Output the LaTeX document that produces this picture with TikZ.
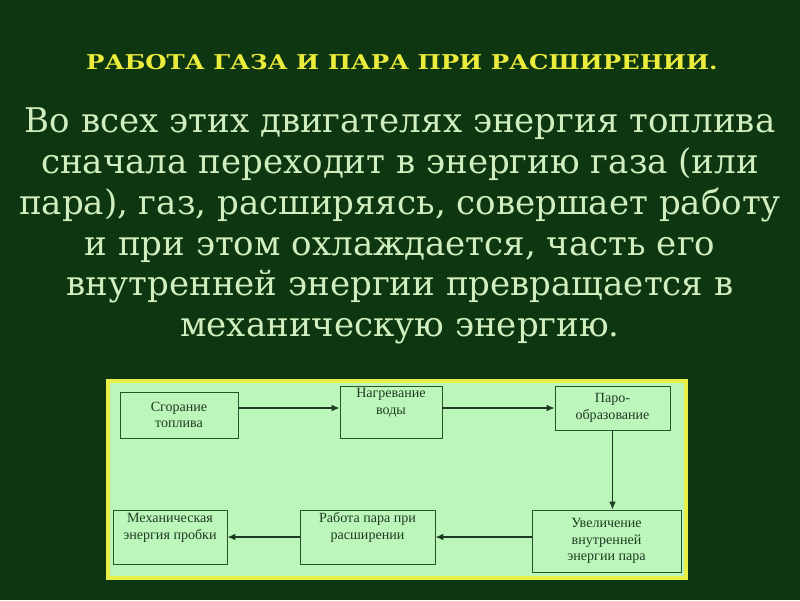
\documentclass[tikz,border=0pt]{standalone}
\usepackage{fontspec}
\setmainfont{Liberation Serif}
\newfontfamily\slidefont{DejaVu Serif}
\usetikzlibrary{arrows.meta, positioning, calc}
\definecolor{boardgreen}{RGB}{14,54,16}
\definecolor{chalk}{RGB}{208,238,190}
\definecolor{titleyellow}{RGB}{236,236,60}
\definecolor{panelfill}{RGB}{188,246,186}
\definecolor{panelrim}{RGB}{230,240,70}
\definecolor{boxline}{RGB}{40,84,44}
\definecolor{boxtext}{RGB}{30,60,36}

\begin{document}
\begin{tikzpicture}[
    x=0.025cm, y=-0.025cm,
    stepbox/.style={
        draw=boxline, line width=0.6pt, align=center,
        text=boxtext, inner sep=1pt,
        font=\fontsize{10}{11.8}\selectfont
    },
    flow/.style={-{Latex[length=2mm,width=1.7mm]}, line width=0.8pt, draw=boxtext}
]
    \useasboundingbox (0,0) rectangle (800,600);
    \fill[boardgreen] (0,0) rectangle (800,600);

    % heading and text
    \node[text=titleyellow, font=\slidefont\bfseries\fontsize{14.5}{17}\selectfont] (title) at (402,62)
        {\scalebox{1.2}[1]{РАБОТА ГАЗА И ПАРА ПРИ РАСШИРЕНИИ.}};
    \node[text=chalk, align=center, font=\slidefont\fontsize{24.2}{29}\selectfont] (body) at (400,226)
        {Во всех этих двигателях энергия топлива\\
         сначала переходит в энергию газа (или\\
         пара), газ, расширяясь, совершает работу\\
         и при этом охлаждается, часть его\\
         внутренней энергии превращается в\\
         механическую энергию.};

    % panel
    \draw[panelrim, line width=2.5pt, fill=panelfill] (108,381) rectangle (686,578);

    % steps
    \node[stepbox, minimum width=2.95cm, minimum height=1.15cm] (burn) at (179,415) {Сгорание\\топлива};
    \node[stepbox, minimum width=2.55cm, minimum height=1.3cm] (heat) at (391,412) {Нагревание\\воды\\\strut};
    \node[stepbox, minimum width=2.875cm, minimum height=1.1cm] (steam) at (612.5,408) {Паро-\\образование};
    \node[stepbox, minimum width=3.725cm, minimum height=1.55cm] (inner) at (606.5,541) {Увеличение\\внутренней\\энергии пара};
    \node[stepbox, minimum width=3.375cm, minimum height=1.35cm] (work) at (367.5,537) {Работа пара при\\расширении\\\strut};
    \node[stepbox, minimum width=2.85cm, minimum height=1.35cm] (mech) at (170,537) {Механическая\\энергия пробки\\\strut};

    % arrows
    \draw[flow] (burn.east |- steam.west) -- (heat.west |- steam.west);
    \draw[flow] (heat.east |- steam.west) -- (steam.west);
    \draw[flow] (steam.south) -- (steam.south |- inner.north);
    \draw[flow] (inner.west |- work.east) -- (work.east);
    \draw[flow] (work.west) -- (mech.east);
\end{tikzpicture}
\end{document}
